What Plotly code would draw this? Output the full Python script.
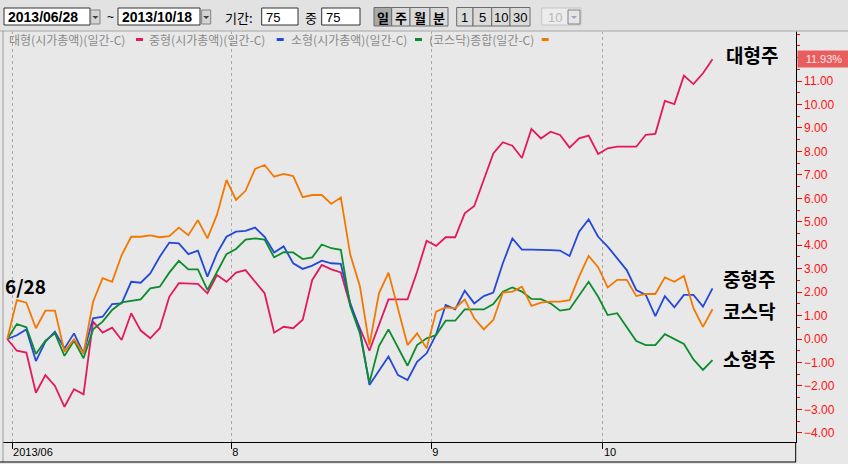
"""Large/mid/small cap vs KOSDAQ index, cumulative % change 2013/06/28 - 2013/10/18."""
import plotly.graph_objects as go

W, H = 848, 464

# cumulative change (%) per trading day, 75 days
large = [0, -0.50, -0.58, -2.29, -1.54, -2.00, -2.89, -2.14, -2.36, 0.74,
         0.27, 0.48, -0.04, 1.10, 0.36, 0.03, 0.46, 1.80, 2.38, 2.35,
         2.35, 1.95, 2.73, 2.44, 2.83, 2.94, 2.44, 1.95, 0.27, 0.52,
         0.46, 0.82, 2.52, 3.16, 2.97, 2.84, 1.42, 0.45, -0.50, 0.60,
         1.69, 1.69, 1.69, 2.87, 4.19, 3.97, 4.34, 4.34, 5.36, 5.67,
         6.78, 7.91, 8.39, 8.24, 7.72, 8.96, 8.55, 8.84, 8.70, 8.16,
         8.56, 8.67, 7.89, 8.13, 8.20, 8.20, 8.20, 8.71, 8.75, 10.15,
         10.02, 11.23, 10.87, 11.33, 11.93]
mid = [0, 0.16, 0.41, -0.94, -0.11, 0.31, -0.40, 0.24, -0.61, 0.88,
       0.95, 1.49, 1.52, 2.44, 2.40, 2.80, 3.51, 4.11, 4.08, 3.62,
       3.77, 2.66, 3.65, 4.36, 4.58, 4.61, 4.75, 4.36, 3.69, 3.95,
       3.23, 2.99, 3.13, 3.34, 3.23, 3.20, 1.52, 0.38, -1.96, -1.35,
       -0.75, -1.54, -1.75, -0.97, -0.61, 0.20, 1.45, 1.27, 2.06, 1.52,
       1.83, 1.98, 3.23, 4.29, 3.81, 3.81, 3.81, 3.79, 3.77, 3.54,
       4.58, 5.10, 4.36, 3.94, 3.44, 2.94, 2.09, 1.88, 0.98, 1.83,
       1.35, 1.88, 1.88, 1.38, 2.16]
small = [0, 0.64, 0.50, -0.64, -0.07, 0.24, -0.72, -0.07, -0.82, 0.41,
         0.74, 1.24, 1.56, 1.61, 1.69, 2.16, 2.23, 2.83, 3.33, 2.97,
         2.97, 2.09, 2.85, 3.62, 3.84, 4.24, 4.29, 4.24, 3.48, 3.70,
         3.69, 3.41, 3.48, 4.03, 3.87, 3.80, 1.38, 0.24, -1.86, -0.30,
         0.41, -0.40, -1.14, -0.26, 0.03, 0.17, 0.78, 0.78, 1.26, 1.26,
         1.26, 1.49, 2.02, 2.20, 2.02, 1.71, 1.70, 1.52, 1.21, 1.27,
         1.88, 2.44, 1.80, 1.02, 1.10, 0.52, -0.09, -0.26, -0.26, 0.21,
         -0.01, -0.21, -0.87, -1.32, -0.90]
kosdaq = [0, 1.66, 1.55, 0.46, 1.21, 1.21, -0.54, -0.01, -0.61, 1.59,
          2.59, 2.44, 3.58, 4.36, 4.36, 4.42, 4.34, 4.39, 4.75, 4.43,
          5.07, 4.29, 5.29, 6.78, 5.93, 6.32, 7.25, 7.42, 6.92, 7.04,
          6.95, 6.05, 6.14, 6.14, 5.76, 6.03, 3.58, 2.25, -0.26, 1.95,
          2.83, 1.24, -0.26, 0.24, -0.40, 1.17, 1.35, 1.31, 1.69, 0.88,
          0.41, 0.81, 1.98, 2.02, 2.23, 1.41, 1.55, 1.59, 1.59, 1.66,
          2.66, 3.54, 3.06, 2.20, 2.52, 2.52, 1.83, 1.92, 1.92, 2.63,
          2.44, 2.69, 1.31, 0.52, 1.27]

month_labels = ["2013/06", "8", "9", "10"]
month_first_day = [1, 24, 45, 63]  # trading-day index where the month starts
y_ticks = list(range(-4, 12))

series = [
    ("대형(시가총액)(일간-C)", large, "#e2195f"),
    ("중형(시가총액)(일간-C)", mid, "#2349d6"),
    ("소형(시가총액)(일간-C)", small, "#0c8c2c"),
    ("(코스닥)종합(일간-C)", kosdaq, "#f27800"),
]


def px(x):
    return x / W


def py(y):
    return 1 - y / H


days = list(range(len(large)))
fig = go.Figure()
for name, vals, color in series:
    fig.add_trace(go.Scatter(x=days, y=vals, mode="lines", name=name,
                             line=dict(color=color, width=1.8)))

shapes = []
annotations = []


def rect(x0, y0, x1, y1, fill, line="#606060", width=1):
    shapes.append(dict(type="rect", xref="paper", yref="paper", layer="above",
                       x0=px(x0), x1=px(x1), y0=py(y1), y1=py(y0),
                       fillcolor=fill, line=dict(color=line, width=width)))


def hline(x0, x1, y, color, width=1):
    shapes.append(dict(type="line", xref="paper", yref="paper", x0=px(x0), x1=px(x1),
                       y0=py(y), y1=py(y), line=dict(color=color, width=width)))


def vline(x, y0, y1, color, width=1):
    shapes.append(dict(type="line", xref="paper", yref="paper", x0=px(x), x1=px(x),
                       y0=py(y0), y1=py(y1), line=dict(color=color, width=width)))


def text(x, y, s, size=12, color="black", anchor="left", bold=False, family="Noto Sans CJK KR"):
    annotations.append(dict(xref="paper", yref="paper", x=px(x), y=py(y), text=f"<b>{s}</b>" if bold else s,
                            showarrow=False, xanchor=anchor, yanchor="middle",
                            font=dict(size=size, color=color, family=family)))


def dropdown(x0, x1, color="#404040", fill="#d4d4d4"):
    rect(x0, 10, x1, 24, fill, line="#808080")
    cx = (x0 + x1) / 2
    shapes.append(dict(type="path", xref="paper", yref="paper", fillcolor=color, line=dict(width=0),
                       path=f"M {px(cx - 3)} {py(16)} L {px(cx + 3)} {py(16)} L {px(cx)} {py(19)} Z"))


# toolbar
rect(0, 0, W, 31, "#e2e2e2", line="#e2e2e2")
hline(0, W, 31, "#a8a8a8")
rect(4, 8, 90, 25, "white", line="#303030")
text(6, 17, "2013/06/28", size=14, bold=True, family="Liberation Sans")
dropdown(90.7, 100)
text(110, 17, "~", size=12, anchor="center", family="Liberation Sans")
rect(118, 8, 200, 25, "white", line="#303030")
text(120, 17, "2013/10/18", size=14, bold=True, family="Liberation Sans")
dropdown(201.7, 210.7)
text(223, 17, "기간:", size=13)
rect(261.7, 8, 298, 25, "white", line="#303030")
text(264, 17, "75", size=13, family="Liberation Sans")
text(303, 17, "중", size=13)
rect(321.7, 8, 360, 25, "white", line="#303030")
text(324, 17, "75", size=13, family="Liberation Sans")
buttons = [("일", 374, 391.7, True), ("주", 391.7, 410, False), ("월", 410, 430, False),
           ("분", 430, 448, False), ("1", 456.7, 473, False), ("5", 473, 491.7, False),
           ("10", 491.7, 510, False), ("30", 510, 530, False)]
for label, bx0, bx1, pressed in buttons:
    rect(bx0, 7.5, bx1, 26, "#a9a9a9" if pressed else "#dadada", line="#6a6a6a")
    text((bx0 + bx1) / 2, 17, label, size=13, anchor="center", bold=not label.isdigit(),
         family="Noto Sans CJK KR" if not label.isdigit() else "Liberation Sans")
rect(541.7, 8, 581, 25, "#ececec", line="#c4c4c4")
text(546, 17, "10", size=13, color="#b8b8b8", family="Liberation Sans")
dropdown(568, 580, color="#9aa4c0", fill="#e6e6e6")

# legend row
legend_pos = [(7, 136), (146.7, 276.7), (289.3, 415), (426.7, 541.7)]
for (name, _, color), (tx, dx) in zip(series, legend_pos):
    text(tx, 39, name, size=12, color="#8a8a8a")
    rect(dx, 38, dx + 7, 41, color, line=color, width=0)

# frame
vline(3, 31, 462, "#9a9a9a")
hline(0, 796, 462, "black")
vline(795.7, 442, 462, "black")

# line labels
text(752, 55, "대형주", size=19, anchor="center", bold=True)
text(749, 278, "중형주", size=19, anchor="center", bold=True)
text(749, 310, "코스닥", size=19, anchor="center", bold=True)
text(749, 358, "소형주", size=19, anchor="center", bold=True)
text(3, 285, "6/28", size=19, bold=True)

annotations.append(dict(xref="paper", yref="y", x=px(797), y=large[-1], xanchor="left", yanchor="middle",
                        text=f"{large[-1]:.2f}%", showarrow=False, bgcolor="#e85e5e", width=50, height=14,
                        font=dict(size=11, color="#ffe4e4", family="Liberation Sans")))

fig.update_layout(
    width=W, height=H,
    margin=dict(l=0, r=0, t=0, b=0),
    paper_bgcolor="#e8e8e8", plot_bgcolor="#e8e8e8",
    showlegend=False,
    shapes=shapes, annotations=annotations,
    xaxis=dict(
        domain=[px(3), px(795.7)],
        range=[-0.451, 82.73],
        tickvals=[d - 0.5 for d in month_first_day], ticktext=month_labels,
        ticks="outside", ticklen=6, tickcolor="black", ticklabelposition="outside right",
        tickfont=dict(size=11, color="black", family="Liberation Sans"),
        showline=True, linecolor="black", linewidth=1,
        showgrid=True, gridcolor="#a6a6a6", griddash="3px,3px", gridwidth=1,
        zeroline=False, automargin=False,
    ),
    yaxis=dict(
        domain=[1 - 442 / H, 1 - 31 / H],
        range=[-4.392, 13.134],
        side="right",
        tickvals=y_ticks, tickformat=".2f",
        ticks="outside", ticklen=5, tickcolor="red",
        tickfont=dict(size=12, color="#ff1010", family="Liberation Sans"),
        minor=dict(tickvals=[v + 0.5 for v in range(-5, 13)] + [12, 13], ticks="outside",
                   ticklen=3, tickcolor="red"),
        showline=True, linecolor="black", linewidth=1,
        showgrid=False, zeroline=False, automargin=False,
    ),
)

fig.write_html("out.html", config={"displayModeBar": False},
               post_script="document.body.style.margin='0';")
